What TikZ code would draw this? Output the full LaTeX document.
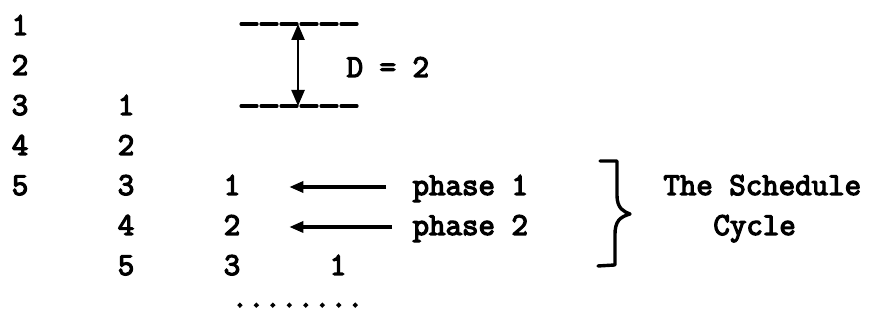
\documentclass[tikz,border=0pt]{standalone}
\usepackage{fontspec}
\newfontfamily\schedfont{Latin Modern Mono}[FakeBold=4]
\usetikzlibrary{arrows.meta}

\begin{document}
\begin{tikzpicture}[x=53pt, y=20pt,
  font=\schedfont\fontsize{16}{19}\selectfont,
  text height=11pt, text depth=3pt,
  >={Triangle[length=7pt,width=5.5pt]}]
\useasboundingbox (-0.189,0.675) rectangle (8.057,-7.35);

% first column
\node (1a) at (0,0) {1};
\node (2a) at (0,-1) {2};
\node (3a) at (0,-2) {3};
\node (4a) at (0,-3) {4};
\node (5a) at (0,-4) {5};

% second column
\node (1b) at (1,-2) {1};
\node (2b) at (1,-3) {2};
\node (3b) at (1,-4) {3};
\node (4b) at (1,-5) {4};
\node (5b) at (1,-6) {5};

% third and fourth column
\node (1c) at (2,-4) {1};
\node (2c) at (2,-5) {2};
\node (3c) at (2,-6) {3};
\node (1d) at (3,-6) {1};
\node[anchor=west] (dots) at (1.93,-6.8) {........};

% distance D between the dashed lines
\coordinate (tl) at (2.085,0.075);
\coordinate (tr) at (3.189,0.075);
\coordinate (bl) at (2.085,-1.975);
\coordinate (br) at (3.189,-1.975);
\coordinate (dtop) at (2.623,0.075);
\coordinate (dbot) at (2.623,-1.975);
\path[draw,line width=1.6pt,dash pattern=on 8pt off 2pt,line cap=round] (tl) -- (tr);
\path[draw,line width=1.6pt,dash pattern=on 8pt off 2pt,line cap=round] (bl) -- (br);
\path[draw,line width=1.2pt,{Triangle[length=8pt,width=6.5pt]}-{Triangle[length=8pt,width=6.5pt]}] (dtop) -- (dbot);
\node (dist) at (3.47,-1.05) {D = 2};

% phases
\node[anchor=west,inner sep=0pt] (ph1) at (3.70,-4) {phase 1};
\node[anchor=west,inner sep=0pt] (ph2) at (3.70,-5) {phase 2};
\path[draw,line width=1.6pt,->,shorten <=13pt,shorten >=21pt] (ph1.west) -- (1c.east);
\path[draw,line width=1.6pt,->,shorten <=10pt,shorten >=21pt] (ph2.west) -- (2c.east);

% brace and cycle
\path[draw,line width=1.7pt,line cap=round,line join=round]
  (5.472,-3.35) -- (5.632,-3.35) -- (5.632,-4.2)
  .. controls (5.632,-4.55) and (5.70,-4.62) .. (5.755,-4.675)
  .. controls (5.66,-4.75) and (5.613,-4.85) .. (5.613,-5.2)
  -- (5.613,-5.95) -- (5.453,-5.975);
\node[anchor=west,inner sep=0pt] (sched) at (6.066,-4) {The Schedule};
\node[anchor=west,inner sep=0pt] (cycle) at (6.538,-5) {Cycle};
\end{tikzpicture}
\end{document}
